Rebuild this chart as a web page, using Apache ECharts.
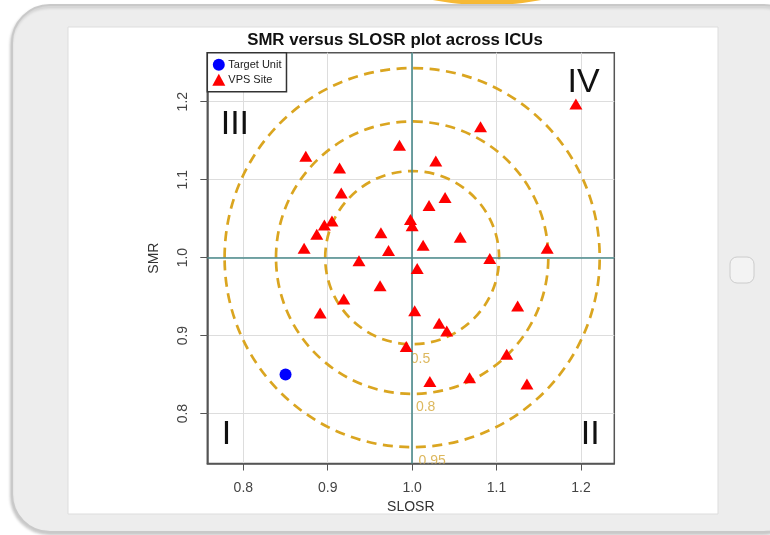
<!DOCTYPE html>
<html><head><meta charset="utf-8">
<script src="https://cdn.jsdelivr.net/npm/echarts@6/dist/echarts.min.js"></script>
<style>html,body{margin:0;padding:0;background:#fff}#c{width:770px;height:535px}</style>
</head><body><div id="c"></div>
<script>
const chartTitle = 'SMR versus SLOSR plot across ICUs';
const xName = 'SLOSR';
const yName = 'SMR';
const xTicks = [0.8, 0.9, 1.0, 1.1, 1.2];
const yTicks = [0.8, 0.9, 1.0, 1.1, 1.2];
const vpsSLOSR = [1.194, 1.081, 0.985, 0.874, 0.914, 1.028, 0.916, 1.020, 1.039, 0.905, 0.896, 0.887, 0.872, 0.998, 1.000, 0.963, 0.972, 1.013, 1.057, 1.160, 0.937, 1.092, 1.006, 0.962, 0.919, 1.125, 0.891, 1.003, 1.032, 1.041, 0.993, 1.112, 1.021, 1.068, 1.136];
const vpsSMR   = [1.197, 1.168, 1.144, 1.130, 1.115, 1.124, 1.083, 1.067, 1.077, 1.047, 1.042, 1.030, 1.012, 1.049, 1.041, 1.032, 1.009, 1.016, 1.026, 1.012, 0.996, 0.999, 0.986, 0.964, 0.947, 0.938, 0.929, 0.932, 0.916, 0.906, 0.886, 0.876, 0.841, 0.846, 0.838];
const targetSLOSR = [0.85];
const targetSMR = [0.85];
const ellipseLevels = ['0.5', '0.8', '0.95'];
const ellipseRx = [0.103, 0.1613, 0.2222];
const ellipseRy = [0.111, 0.1747, 0.243];
const ellipseCentre = [1.0, 1.0];
const levelLabelX = [1.0099, 1.016, 1.0237];
const levelLabelY = [0.870, 0.808, 0.7394];
const quadNames = ['I', 'II', 'III', 'IV'];
const quadX = [0.780, 1.211, 0.790, 1.203];
const quadY = [0.7727, 0.7727, 1.171, 1.225];
const refX = [1.0];
const refY = [1.0];

const FONT = '"Liberation Sans", Arial, sans-serif';
const chart = echarts.init(document.getElementById('c'), null, {renderer: 'canvas'});

const ellipseData = ellipseLevels.map((l, i) => [ellipseCentre[0], ellipseCentre[1], ellipseRx[i], ellipseRy[i]]);
const levelData = ellipseLevels.map((l, i) => [levelLabelX[i], levelLabelY[i], l]);
const quadData = quadNames.map((q, i) => [quadX[i], quadY[i], q]);
const vpsData = vpsSLOSR.map((x, i) => [x, vpsSMR[i]]);
const targetData = targetSLOSR.map((x, i) => [x, targetSMR[i]]);

const option = {
  backgroundColor: '#ffffff',
  animation: false,
  graphic: [
    {type: 'ellipse', shape: {cx: 487, cy: -25, rx: 98, ry: 30}, style: {fill: '#F6B935'}, z: -20, silent: true},
    {type: 'rect', shape: {x: 12, y: 5, width: 790, height: 527, r: 38},
      style: {fill: '#EDEDED', stroke: '#C9C9C9', lineWidth: 2, shadowColor: 'rgba(0,0,0,0.18)', shadowBlur: 3, shadowOffsetX: -1, shadowOffsetY: 2}, z: -19, silent: true},
    {type: 'rect', shape: {x: 68, y: 27, width: 650, height: 487},
      style: {fill: '#FFFFFF', stroke: '#DDDDDD', lineWidth: 1}, z: -18, silent: true},
    {type: 'rect', shape: {x: 730, y: 257, width: 24, height: 26, r: 7},
      style: {fill: '#F3F3F3', stroke: '#CCCCCC', lineWidth: 1}, z: -18, silent: true},
    {type: 'text', x: 395, y: 40, style: {text: chartTitle, font: 'bold 16.8px ' + FONT, fill: '#111', align: 'center', verticalAlign: 'middle'}, z: 10}
  ],
  grid: {left: 207.3, top: 52.7, width: 407, height: 410.8, show: true, borderColor: '#555', borderWidth: 1.5, backgroundColor: 'transparent'},
  legend: {
    left: 207.3, top: 52.7, orient: 'vertical',
    data: ['Target Unit', 'VPS Site'],
    itemWidth: 13, itemHeight: 12, itemGap: 3,
    padding: [6, 5, 6, 5],
    borderColor: '#333', borderWidth: 1.5, borderRadius: 0,
    backgroundColor: '#fff',
    textStyle: {fontFamily: FONT, fontSize: 11, color: '#222', padding: [0, 0, 0, -2]},
    selectedMode: false
  },
  xAxis: {
    type: 'value', min: 0.7573, max: 1.2395,
    name: xName, nameLocation: 'middle', nameGap: 37,
    nameTextStyle: {fontFamily: FONT, fontSize: 14, color: '#333'},
    axisLine: {show: true, onZero: false, lineStyle: {color: '#555', width: 1.5}},
    axisTick: {show: true, customValues: xTicks, length: 7, lineStyle: {color: '#555', width: 1}},
    axisLabel: {customValues: xTicks, formatter: v => v.toFixed(1), fontFamily: FONT, fontSize: 14, color: '#444', margin: 18},
    splitLine: {show: true, lineStyle: {color: '#DDDDDD', width: 1}}
  },
  yAxis: {
    type: 'value', min: 0.736, max: 1.2628,
    name: yName, nameLocation: 'middle', nameGap: 46,
    nameTextStyle: {fontFamily: FONT, fontSize: 14, color: '#333'},
    axisLine: {show: true, onZero: false, lineStyle: {color: '#555', width: 1.5}},
    axisTick: {show: true, customValues: yTicks, length: 7, lineStyle: {color: '#555', width: 1}},
    axisLabel: {customValues: yTicks, formatter: v => v.toFixed(1), rotate: 90, fontFamily: FONT, fontSize: 14, color: '#444', margin: 17},
    splitLine: {show: true, lineStyle: {color: '#DDDDDD', width: 1}}
  },
  series: [
    {
      name: 'ellipses', type: 'custom', silent: true, z: 3,
      encode: {x: 0, y: 1},
      data: ellipseData,
      renderItem: function (params, api) {
        const c = api.coord([api.value(0), api.value(1)]);
        const s = api.size([api.value(2), api.value(3)]);
        return {type: 'ellipse', shape: {cx: c[0], cy: c[1], rx: s[0], ry: s[1]},
          style: {fill: 'none', stroke: '#DAA520', lineWidth: 2.7, lineDash: [10, 6.5]}};
      },
      markLine: {
        silent: true, symbol: ['none', 'none'], label: {show: false},
        lineStyle: {color: '#4A8A8B', width: 1.6, type: 'solid'},
        data: refX.map(v => ({xAxis: v})).concat(refY.map(v => ({yAxis: v})))
      }
    },
    {
      name: 'levels', type: 'custom', silent: true, clip: true, z: 3,
      encode: {x: 0, y: 1},
      data: levelData,
      renderItem: function (params, api) {
        const c = api.coord([api.value(0), api.value(1)]);
        return {type: 'text', x: c[0], y: c[1],
          style: {text: ellipseLevels[params.dataIndex], fill: '#DDB85E', font: '14px ' + FONT, align: 'center', verticalAlign: 'middle'}};
      }
    },
    {
      name: 'quadrants', type: 'custom', silent: true, z: 3,
      encode: {x: 0, y: 1},
      data: quadData,
      renderItem: function (params, api) {
        const c = api.coord([api.value(0), api.value(1)]);
        return {type: 'text', x: c[0], y: c[1],
          style: {text: quadNames[params.dataIndex], fill: '#111', font: '34px ' + FONT, align: 'center', verticalAlign: 'middle'}};
      }
    },
    {
      name: 'VPS Site', type: 'scatter', z: 5,
      symbol: 'triangle', symbolSize: [13, 11],
      itemStyle: {color: '#FF0000', opacity: 1},
      data: vpsData
    },
    {
      name: 'Target Unit', type: 'scatter', z: 5,
      symbol: 'circle', symbolSize: 12,
      itemStyle: {color: '#0000FF', opacity: 1},
      data: targetData
    }
  ]
};
chart.setOption(option);
</script>
</body></html>
